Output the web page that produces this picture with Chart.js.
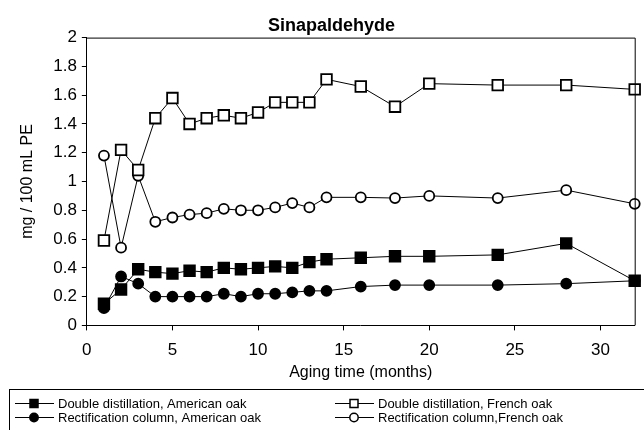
<!DOCTYPE html>
<html>
<head>
<meta charset="utf-8">
<script src="https://cdn.jsdelivr.net/npm/chart.js@4/dist/chart.umd.min.js"></script>
<style>
  html, body { margin: 0; padding: 0; background: #fff; }
  #wrap { width: 644px; height: 430px; }
</style>
</head>
<body>
<div id="wrap"><canvas id="graphe"></canvas></div>
<script>
// Valeurs (mg / 100 mL PE)
const months = [1, 2, 3, 4, 5, 6, 7, 8, 9, 10, 11, 12, 13, 14, 16, 18, 20, 24, 28, 32];
const ddAmerican = [0.15, 0.25, 0.39, 0.37, 0.36, 0.38, 0.37, 0.40, 0.39, 0.40, 0.41, 0.40, 0.44, 0.46, 0.47, 0.48, 0.48, 0.49, 0.57, 0.31];
const ddFrench = [0.59, 1.22, 1.08, 1.44, 1.58, 1.40, 1.44, 1.46, 1.44, 1.48, 1.55, 1.55, 1.55, 1.71, 1.66, 1.52, 1.68, 1.67, 1.67, 1.64];
const rcAmerican = [0.12, 0.34, 0.29, 0.20, 0.20, 0.20, 0.20, 0.22, 0.20, 0.22, 0.22, 0.23, 0.24, 0.24, 0.27, 0.28, 0.28, 0.28, 0.29, 0.31];
const rcFrench = [1.18, 0.54, 1.04, 0.72, 0.75, 0.77, 0.78, 0.81, 0.80, 0.80, 0.82, 0.85, 0.82, 0.89, 0.89, 0.885, 0.90, 0.885, 0.94, 0.845];
const seriesLabels = [
  'Double distillation, American oak',
  'Double distillation, French oak',
  'Rectification column, American oak',
  'Rectification column,French oak'
];

const police = "Arial, 'Liberation Sans', sans-serif";

function points(values) {
  return months.map((m, i) => ({ x: m, y: values[i] }));
}

function serie(label, values, style, filled) {
  return {
    label: label,
    data: points(values),
    showLine: true,
    borderColor: '#000',
    borderWidth: 1,
    pointStyle: style,
    pointRadius: style === 'rect' ? 7.5 : 5,
    pointBackgroundColor: filled ? '#000' : '#fff',
    pointBorderColor: '#000',
    pointBorderWidth: 1.8,
    clip: false
  };
}

// Cadre haut / droite + légende encadrée en bas
const cadre = {
  id: 'cadre',
  afterDraw(chart) {
    const ctx = chart.ctx;
    const a = chart.chartArea;
    ctx.save();
    ctx.strokeStyle = '#000';
    ctx.lineWidth = 1;
    ctx.beginPath();
    ctx.moveTo(a.left, a.top + 0.5);
    ctx.lineTo(a.right + 0.5, a.top + 0.5);
    ctx.lineTo(a.right + 0.5, a.bottom);
    ctx.stroke();

    // légende
    const top = chart.height - 41;
    ctx.strokeRect(9.5, top + 0.5, 700, 100);
    const cols = [15, 335];
    const rows = [top + 14, top + 28];
    const order = [0, 2, 1, 3];
    ctx.font = '13px ' + police;
    ctx.textBaseline = 'middle';
    order.forEach((di, k) => {
      const ds = chart.data.datasets[di];
      const x = cols[k < 2 ? 0 : 1];
      const y = rows[k % 2];
      ctx.strokeStyle = '#000';
      ctx.lineWidth = 1;
      ctx.beginPath();
      ctx.moveTo(x, y + 0.5);
      ctx.lineTo(x + 39, y + 0.5);
      ctx.stroke();
      const cx = x + 19;
      ctx.fillStyle = ds.pointBackgroundColor;
      ctx.lineWidth = 1.5;
      ctx.beginPath();
      if (ds.pointStyle === 'rect') {
        ctx.rect(cx - 4, y - 3.5, 8, 8);
      } else {
        ctx.arc(cx, y + 0.5, 4.2, 0, Math.PI * 2);
      }
      ctx.fill();
      ctx.stroke();
      ctx.fillStyle = '#000';
      ctx.fillText(ds.label, x + 43, y + 1);
    });
    ctx.restore();
  }
};

document.addEventListener('DOMContentLoaded', function() {
  const ctx = document.getElementById('graphe').getContext('2d');

  new Chart(ctx, {
    type: 'scatter',
    data: {
      datasets: [
        serie(seriesLabels[0], ddAmerican, 'rect', true),
        serie(seriesLabels[1], ddFrench, 'rect', false),
        serie(seriesLabels[2], rcAmerican, 'circle', true),
        serie(seriesLabels[3], rcFrench, 'circle', false)
      ]
    },
    options: {
      responsive: true,
      maintainAspectRatio: false,
      animation: false,
      layout: { padding: { left: 24, right: 5, top: 15, bottom: 48 } },
      scales: {
        x: {
          type: 'linear',
          min: 0,
          max: 32,
          grid: { display: true, drawOnChartArea: false, drawTicks: true, tickLength: 5, color: '#000' },
          border: { display: true, color: '#000', width: 1 },
          ticks: { stepSize: 5, includeBounds: false, padding: 10, color: '#000', font: { size: 17, family: police } },
          title: { display: true, text: 'Aging time (months)', color: '#000', font: { size: 16, family: police }, padding: { top: -8, bottom: 0 } }
        },
        y: {
          min: 0,
          max: 2,
          grid: { display: true, drawOnChartArea: false, drawTicks: true, tickLength: 5, color: '#000' },
          border: { display: true, color: '#000', width: 1 },
          ticks: {
            stepSize: 0.2,
            padding: 5,
            color: '#000',
            font: { size: 17, family: police },
            callback: (v) => String(parseFloat(v.toFixed(2)))
          },
          title: { display: true, text: 'mg / 100 mL PE', color: '#000', font: { size: 16, family: police }, padding: { top: -6, bottom: 11 } }
        }
      },
      plugins: {
        legend: { display: false },
        tooltip: { enabled: false },
        title: {
          display: true,
          text: 'Sinapaldehyde',
          color: '#000',
          font: { size: 18, weight: 'bold', family: police },
          padding: { top: 0, bottom: 1 }
        }
      }
    },
    plugins: [cadre]
  });
});
</script>
</body>
</html>
